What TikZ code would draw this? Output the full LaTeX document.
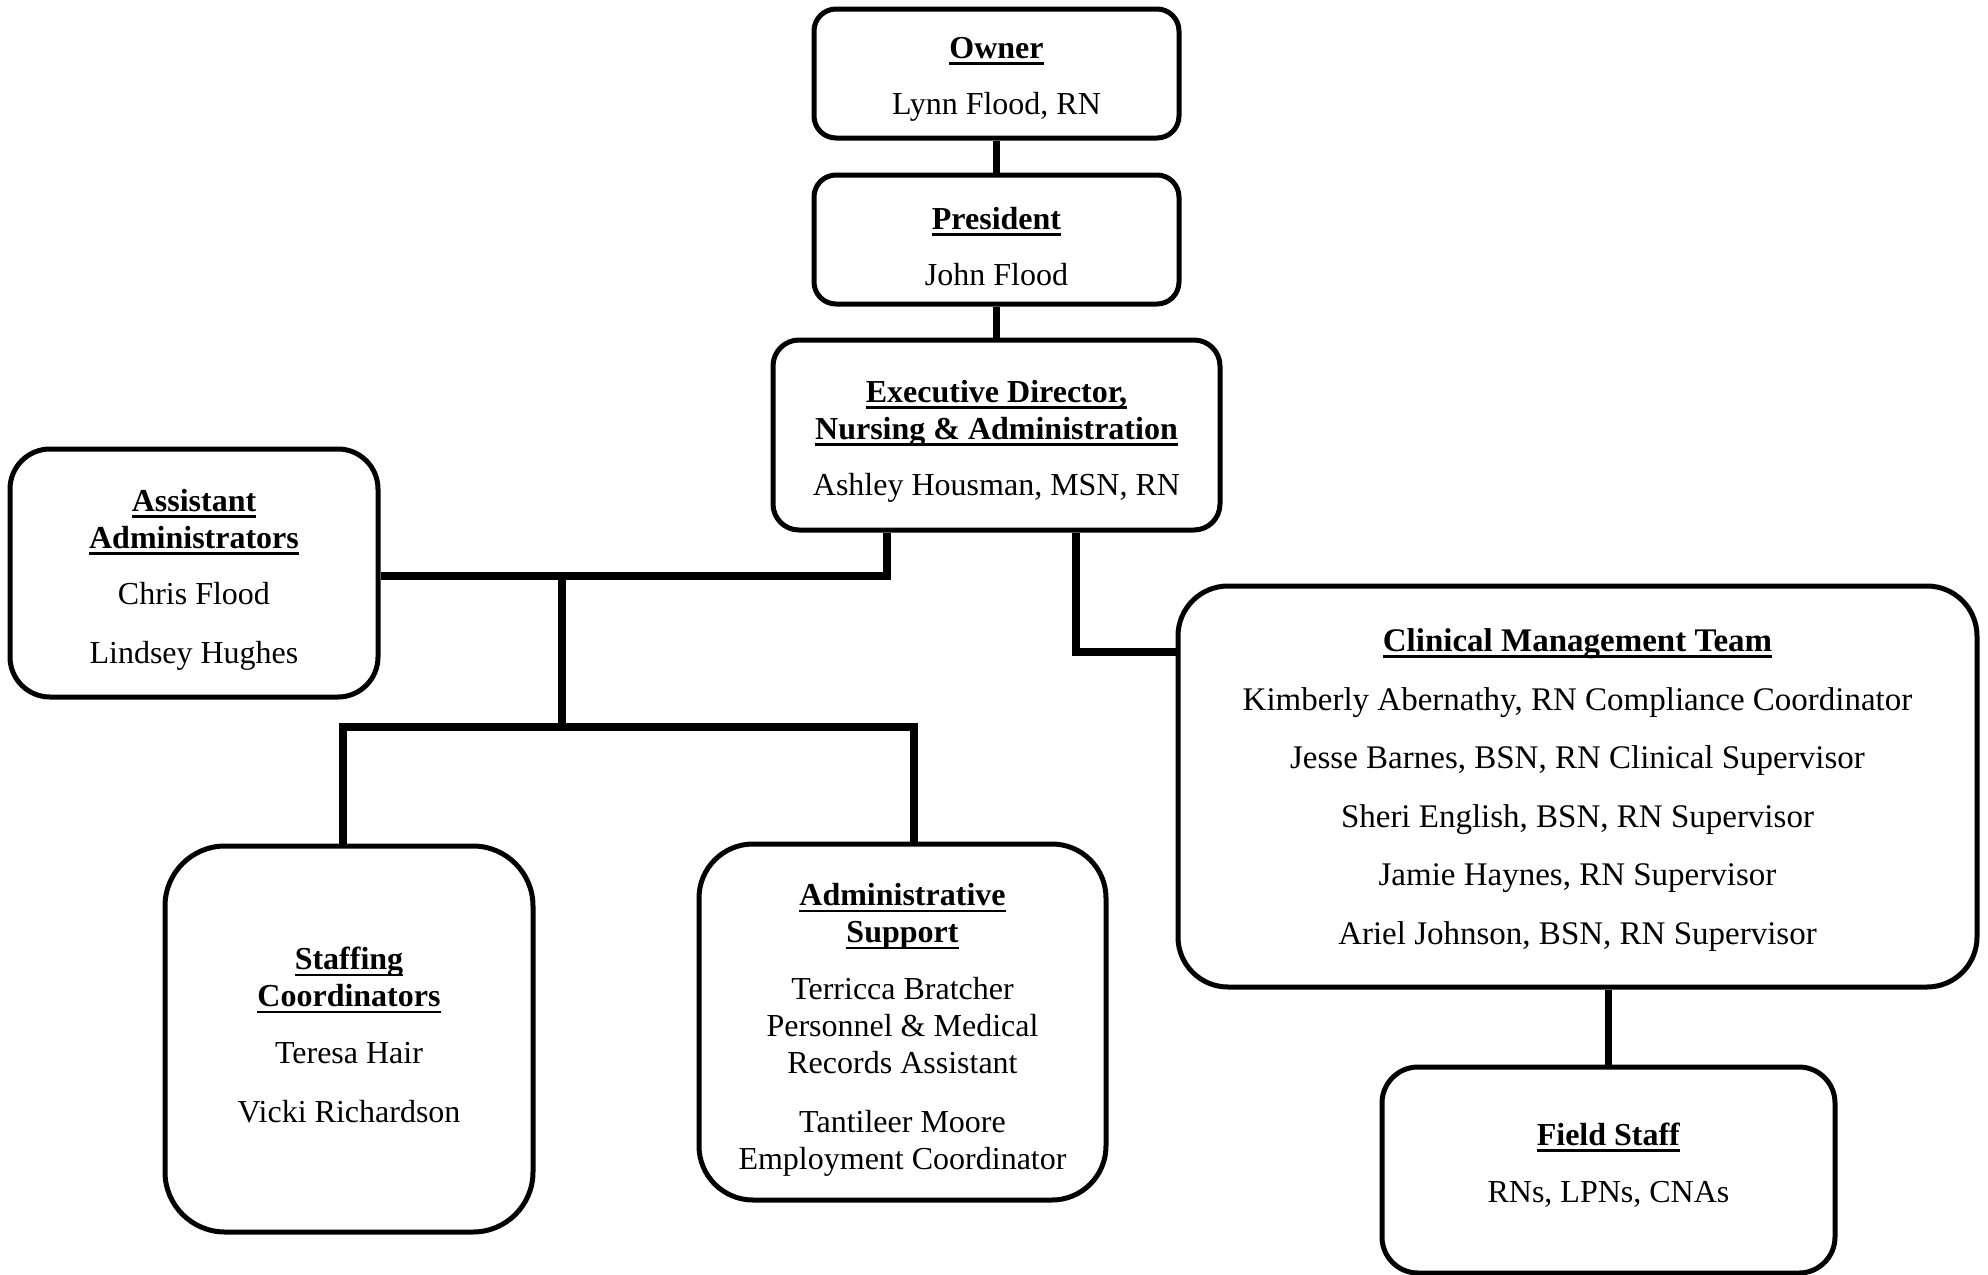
\documentclass[tikz,border=0pt]{standalone}
\usepackage{fontspec}
\setmainfont{Liberation Serif}
\newsavebox\ulbox
\newcommand\hd[1]{\sbox\ulbox{\textbf{#1}}\rlap{\rule[-3.2pt]{\wd\ulbox}{1.4pt}}\usebox\ulbox}
\begin{document}
\begin{tikzpicture}[x=0.5pt,y=-0.5pt,
  box/.style={draw, line width=2.5pt, fill=white},
  txt/.style={align=center, inner sep=0pt, font=\fontsize{16}{18.5}\selectfont},
  conn/.style={line width=3.75pt}]
\useasboundingbox (0,0) rectangle (1988,1275);
% boxes
\node[box, rounded corners=11pt, minimum width=182.5pt, minimum height=64.5pt] (owner) at (996.5,73.5) {};
\node[box, rounded corners=11pt, minimum width=182.5pt, minimum height=64.5pt] (pres) at (996.5,239.5) {};
\node[box, rounded corners=13pt, minimum width=223.5pt, minimum height=95pt] (exec) at (996.5,435) {};
\node[box, rounded corners=20pt, minimum width=184pt, minimum height=124pt] (asst) at (194,573) {};
\node[box, rounded corners=30pt, minimum width=184pt, minimum height=193pt] (staff) at (349,1039) {};
\node[box, rounded corners=27pt, minimum width=203.5pt, minimum height=178pt] (admin) at (902.5,1022) {};
\node[box, rounded corners=25pt, minimum width=399.5pt, minimum height=200.5pt] (clin) at (1577.5,786.5) {};
\node[box, rounded corners=18pt, minimum width=226.5pt, minimum height=103pt] (field) at (1608.5,1170) {};
% texts
\node[txt] (owner-t) at (996.5,79.5) {\hd{Owner}\\[9.5pt]Lynn Flood, RN};
\node[txt] (pres-t) at (996.5,246.5) {\hd{President}\\[9.5pt]John Flood};
\node[txt] (exec-t) at (996.5,441)
  {\hd{Executive Director,}\\\hd{Nursing \& Administration}\\[9.5pt]Ashley Housman, MSN, RN};
\node[txt] (asst-t) at (194,579.6)
  {\hd{Assistant}\\\hd{Administrators}\\[9.5pt]Chris Flood\\[11pt]Lindsey Hughes};
\node[txt] (staff-t) at (349,1035.4)
  {\hd{Staffing}\\\hd{Coordinators}\\[10pt]Teresa Hair\\[11pt]Vicki Richardson};
\node[txt] (admin-t) at (902.5,1030.3)
  {\hd{Administrative}\\\hd{Support}\\[10pt]Terricca Bratcher\\Personnel \& Medical\\Records Assistant\\[11pt]Tantileer Moore\\Employment Coordinator};
\node[txt, font=\fontsize{16.5}{29.3}\selectfont] (clin-t) at (1577.5,790)
  {\hd{Clinical Management Team}\\Kimberly Abernathy, RN Compliance Coordinator\\Jesse Barnes, BSN, RN Clinical Supervisor\\Sheri English, BSN, RN Supervisor\\Jamie Haynes, RN Supervisor\\Ariel Johnson, BSN, RN Supervisor};
\node[txt] (field-t) at (1608.5,1165.4) {\hd{Field Staff}\\[10pt]RNs, LPNs, CNAs};
% junction coordinates
\coordinate (ja) at (887,576);
\coordinate (jb) at (562,576);
\coordinate (jc) at (562,727);
\coordinate (jd) at (343,727);
\coordinate (je) at (914,727);
\coordinate (jf) at (1076,652);
% connectors
\draw[conn] (owner.south) -- (pres.north);
\draw[conn] (pres.south) -- (exec.north);
\draw[conn] (exec.south -| ja) -- (ja) -- (asst.east |- ja);
\draw[conn] (jb) -- (jc);
\draw[conn] (staff.north -| jd) -- (jd) -- (je) -- (admin.north -| je);
\draw[conn] (exec.south -| jf) -- (jf) -- (clin.west |- jf);
\draw[conn] (field.north |- clin.south) -- (field.north);
\end{tikzpicture}
\end{document}
